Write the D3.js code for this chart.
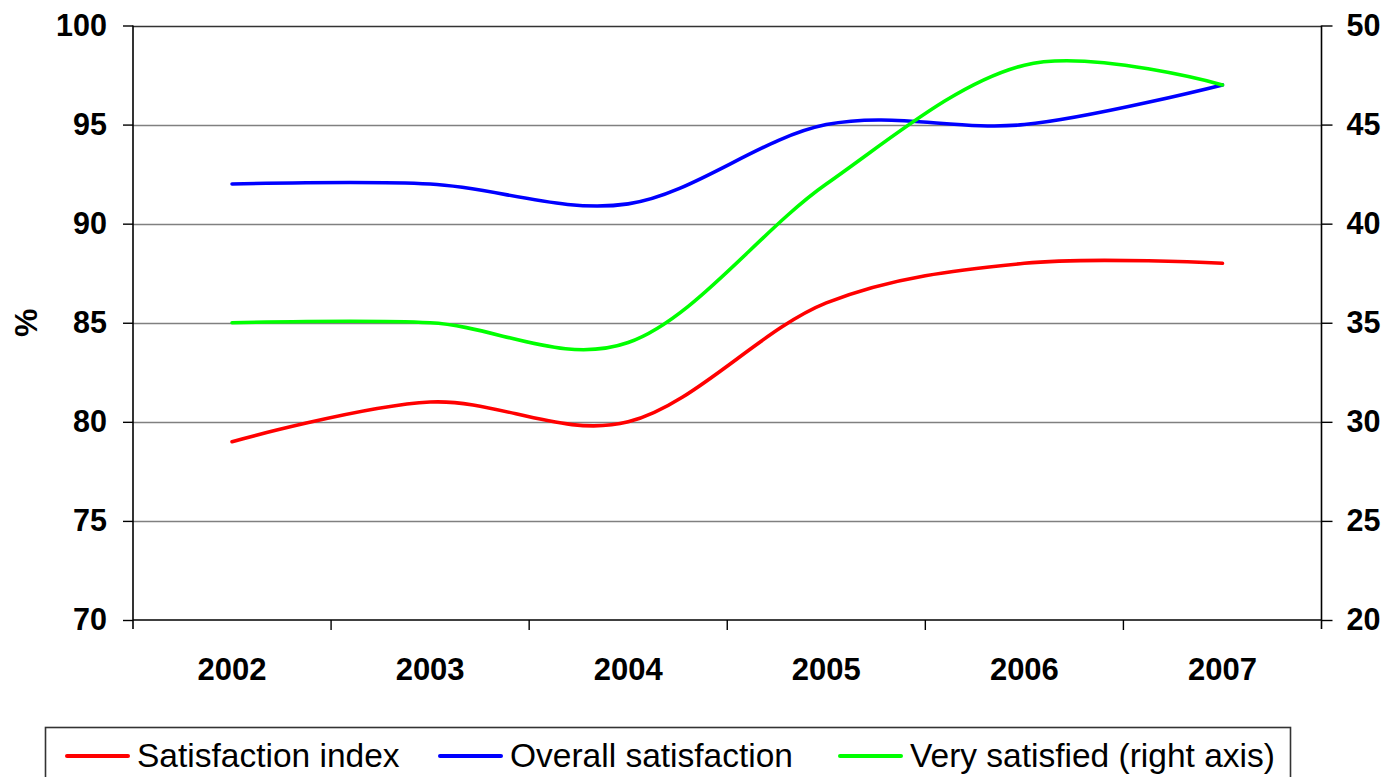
<!DOCTYPE html>
<html>
<head>
<meta charset="utf-8">
<script src="https://cdn.jsdelivr.net/npm/d3@7"></script>
<style>
  html, body { margin: 0; padding: 0; background: #fff; }
  svg { display: block; font-family: "Liberation Sans", Arial, sans-serif; }
</style>
</head>
<body>
<svg id="chart" width="1388" height="777"></svg>
<script>
// Yearly categories and series values
const categories = ["2002", "2003", "2004", "2005", "2006", "2007"];
const satisfactionIndex = [79, 81, 80, 86, 88, 88];
const overallSatisfaction = [92, 92, 91, 95, 95, 97];
const verySatisfied = [35, 35, 34, 42, 48, 47]; // plotted on right axis

const leftTicks = [70, 75, 80, 85, 90, 95, 100];
const rightTicks = [20, 25, 30, 35, 40, 45, 50];

const legendItems = [
  { label: "Satisfaction index", color: "#ff0000" },
  { label: "Overall satisfaction", color: "#0000ff" },
  { label: "Very satisfied (right axis)", color: "#00ff00" }
];

const svg = d3.select("#chart");
const plot = { left: 133, right: 1321.5, top: 25.5, bottom: 620 };

const x = d3.scaleBand().domain(categories).range([plot.left, plot.right]);
const yL = d3.scaleLinear().domain([70, 100]).range([plot.bottom, plot.top]);
const yR = d3.scaleLinear().domain([20, 50]).range([plot.bottom, plot.top]);
const cx = c => x(c) + x.bandwidth() / 2;

// Horizontal gridlines
svg.append("g")
  .selectAll("line")
  .data(leftTicks.slice(1))
  .join("line")
  .attr("x1", plot.left).attr("x2", plot.right)
  .attr("y1", d => Math.round(yL(d)) + 0.5).attr("y2", d => Math.round(yL(d)) + 0.5)
  .attr("stroke", d => d === 100 ? "#333" : "#808080")
  .attr("stroke-width", 1.3);

// Left axis
const leftAxis = svg.append("g")
  .attr("transform", `translate(${plot.left},0)`)
  .call(d3.axisLeft(yL).tickValues(leftTicks).tickSize(10).tickPadding(16).tickFormat(d3.format("d")));
leftAxis.select(".domain").remove();
leftAxis.append("line")
  .attr("x1", 0).attr("x2", 0).attr("y1", plot.top).attr("y2", plot.bottom + 9)
  .attr("stroke", "#000").attr("stroke-width", 1.6);

// Right axis
const rightAxis = svg.append("g")
  .attr("transform", `translate(${plot.right},0)`)
  .call(d3.axisRight(yR).tickValues(rightTicks).tickSize(11).tickPadding(14).tickFormat(d3.format("d")));
rightAxis.select(".domain").remove();
rightAxis.append("line")
  .attr("x1", 0).attr("x2", 0).attr("y1", plot.top).attr("y2", plot.bottom + 9)
  .attr("stroke", "#000").attr("stroke-width", 1.6);

// Bottom axis: ticks on category boundaries, labels centered in each band
const boundaries = categories.map(c => x(c)).concat([plot.right]);
const bottom = svg.append("g");
bottom.append("line")
  .attr("x1", plot.left).attr("x2", plot.right)
  .attr("y1", plot.bottom).attr("y2", plot.bottom)
  .attr("stroke", "#000").attr("stroke-width", 1.6);
bottom.selectAll("line.tick")
  .data(boundaries.slice(1, -1))
  .join("line")
  .attr("class", "tick")
  .attr("x1", d => d).attr("x2", d => d)
  .attr("y1", plot.bottom).attr("y2", plot.bottom + 10)
  .attr("stroke", "#000").attr("stroke-width", 1.4);
bottom.selectAll("text")
  .data(categories)
  .join("text")
  .attr("x", d => cx(d))
  .attr("y", 680)
  .attr("text-anchor", "middle")
  .attr("font-size", 31)
  .attr("font-weight", "bold")
  .text(d => d);

svg.selectAll(".tick text")
  .attr("font-size", 30.5)
  .attr("font-weight", "bold")
  .attr("fill", "#000")
  .attr("font-family", "'Liberation Sans', Arial, sans-serif");
svg.selectAll(".tick line").attr("stroke", "#000").attr("stroke-width", 1.4);

// Y axis title
svg.append("text")
  .attr("transform", `translate(37,${(plot.top + plot.bottom) / 2}) rotate(-90)`)
  .attr("text-anchor", "middle")
  .attr("font-size", 32)
  .attr("font-weight", "bold")
  .text("%");

// Smoothed series lines
const lineL = d3.line()
  .x((d, i) => cx(categories[i]))
  .y(d => yL(d))
  .curve(d3.curveCardinal.tension(0));
const lineR = d3.line()
  .x((d, i) => cx(categories[i]))
  .y(d => yR(d))
  .curve(d3.curveCardinal.tension(0));

const series = [
  { values: overallSatisfaction, line: lineL, color: "#0000ff" },
  { values: satisfactionIndex, line: lineL, color: "#ff0000" },
  { values: verySatisfied, line: lineR, color: "#00ff00" }
];
svg.append("g")
  .selectAll("path")
  .data(series)
  .join("path")
  .attr("d", s => s.line(s.values))
  .attr("fill", "none")
  .attr("stroke", s => s.color)
  .attr("stroke-width", 3.6)
  .attr("stroke-linecap", "round")
  .attr("stroke-linejoin", "round");

// Legend
const legend = svg.append("g");
legend.append("rect")
  .attr("x", 45.5).attr("y", 727.5)
  .attr("width", 1245).attr("height", 80)
  .attr("fill", "#fff")
  .attr("stroke", "#333").attr("stroke-width", 1.6);
const legendX = [67, 440, 840];
const items = legend.selectAll("g.item")
  .data(legendItems)
  .join("g")
  .attr("class", "item")
  .attr("transform", (d, i) => `translate(${legendX[i]},756)`);
items.append("line")
  .attr("x1", 0).attr("x2", 61)
  .attr("y1", 0).attr("y2", 0)
  .attr("stroke", d => d.color)
  .attr("stroke-width", 4)
  .attr("stroke-linecap", "round");
items.append("text")
  .attr("x", 70)
  .attr("y", 11)
  .attr("font-size", 33.5)
  .attr("fill", "#000")
  .text(d => d.label);
</script>
</body>
</html>
